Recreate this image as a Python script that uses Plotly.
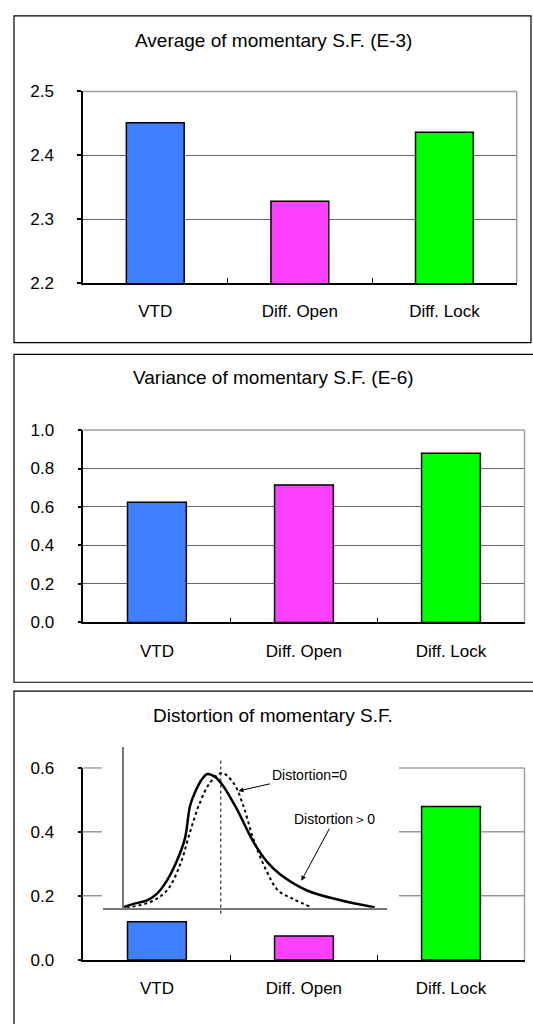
import plotly.graph_objects as go

# ---------------- data ----------------
categories = ["VTD", "Diff. Open", "Diff. Lock"]
bar_colors = ["#4080FF", "#FF40FF", "#00FF00"]

avg_values = [2.451, 2.328, 2.436]      # Average of momentary S.F. (E-3)
var_values = [0.624, 0.714, 0.879]      # Variance of momentary S.F. (E-6)
dist_values = [0.119, 0.074, 0.479]     # Distortion of momentary S.F.

avg_range = [2.2, 2.5]
var_range = [0.0, 1.0]
dist_range = [0.0, 0.6]
avg_ticks = [2.2, 2.3, 2.4, 2.5]
var_ticks = [0.0, 0.2, 0.4, 0.6, 0.8, 1.0]
dist_ticks = [0.0, 0.2, 0.4, 0.6]
dist_grid = [0.2, 0.4]

titles = ["Average of momentary S.F. (E-3)",
          "Variance of momentary S.F. (E-6)",
          "Distortion of momentary S.F."]

# inset sketch: skewed (Distortion>0) and symmetric (Distortion=0) curves
skew_x = [0.70, 1.08, 1.55, 1.90, 2.25, 2.60, 2.89, 3.07, 3.24, 3.48, 3.68, 3.95,
          4.24, 4.71, 5.29, 5.76, 6.23, 7.16, 8.36, 9.56]
skew_y = [0.0, 0.024, 0.045, 0.086, 0.167, 0.289, 0.432, 0.636, 0.718, 0.799, 0.834,
          0.816, 0.758, 0.616, 0.412, 0.289, 0.208, 0.109, 0.046, 0.002]
norm_x = [0.84, 1.66, 2.25, 2.72, 3.07, 3.42, 3.77, 4.18, 4.59, 4.94, 5.29, 5.76,
          6.17, 6.69, 7.34]
norm_y = [0.0, 0.035, 0.106, 0.269, 0.473, 0.656, 0.779, 0.840, 0.779, 0.636, 0.431,
          0.228, 0.106, 0.055, 0.002]
mean_x = 4.15
label_zero = "Distortion=0"
label_pos = "Distortion\uff1e0"
arrow_zero_head = (4.77, 0.728)
arrow_pos_head = (6.98, 0.168)

# ---------------- layout helpers ----------------
W, H = 533, 1024


def px(x):
    return x / W


def py(y):
    return 1 - y / H


TICK_FONT = dict(family="Liberation Sans, Arial, sans-serif", size=17, color="#000")
GRID = "#666666"
FRAME = "#a0a0a0"

fig = go.Figure()

values = [avg_values, var_values, dist_values]
for i, vals in enumerate(values):
    suffix = "" if i == 0 else str(i + 1)
    fig.add_trace(go.Bar(
        x=categories, y=vals,
        marker=dict(color=bar_colors, line=dict(color="#000", width=1.5)),
        xaxis="x" + suffix, yaxis="y" + suffix, showlegend=False,
        hoverinfo="skip"))

# inset curves
fig.add_trace(go.Scatter(x=norm_x, y=norm_y, mode="lines",
                         line=dict(color="#000", width=2, dash="dot", shape="spline"),
                         xaxis="x4", yaxis="y4", showlegend=False, hoverinfo="skip"))
fig.add_trace(go.Scatter(x=skew_x, y=skew_y, mode="lines",
                         line=dict(color="#000", width=2.5, shape="spline"),
                         xaxis="x4", yaxis="y4", showlegend=False, hoverinfo="skip"))

xcommon = dict(type="category", showline=True, linecolor="#000", linewidth=1.5,
               ticks="inside", tickson="boundaries", ticklen=5, tickcolor="#000",
               tickwidth=1, tickfont=TICK_FONT, showgrid=False, zeroline=False,
               ticklabelstandoff=12, fixedrange=True)
ycommon = dict(showline=True, linecolor="#000", linewidth=1.5, ticks="outside",
               ticklen=4, tickcolor="#000", tickwidth=1.5, tickfont=TICK_FONT,
               gridcolor=GRID, gridwidth=1, zeroline=False, tickformat=".1f",
               ticklabelstandoff=20, fixedrange=True)

p1x = [px(83), px(516.7)]
p1y = [py(279.3), py(84)]
p2x = [px(83.4), px(524.5)]
p2y = [py(625), py(429)]
p3x = [px(83.4), px(524.5)]
p3y = [py(968.7), py(773.3)]

fig.update_layout(
    width=W, height=H,
    margin=dict(l=0, r=0, t=0, b=0),
    paper_bgcolor="#fff", plot_bgcolor="#fff",
    bargap=0.6,
    xaxis=dict(domain=p1x, anchor="y", **xcommon),
    yaxis=dict(domain=p1y, anchor="x", range=avg_range, tickvals=avg_ticks,
               showgrid=True, **ycommon),
    xaxis2=dict(domain=p2x, anchor="y2", **xcommon),
    yaxis2=dict(domain=p2y, anchor="x2", range=var_range, tickvals=var_ticks,
                showgrid=True, **ycommon),
    xaxis3=dict(domain=p3x, anchor="y3", **xcommon),
    yaxis3=dict(domain=p3y, anchor="x3", range=dist_range, tickvals=dist_ticks,
                showgrid=False, **ycommon),
    xaxis4=dict(domain=[px(102.7), px(387.3)], anchor="y4", range=[0, 10],
                showline=True, linecolor="#777", linewidth=1.5, showticklabels=False,
                ticks="", showgrid=False, zeroline=False, fixedrange=True),
    yaxis4=dict(domain=[py(915.7), py(752.3)], anchor="free", position=px(122.7),
                range=[0, 1], showline=True, linecolor="#777", linewidth=1.5,
                showticklabels=False, ticks="", showgrid=False, zeroline=False,
                fixedrange=True),
)

shapes = []
# outer panel boxes
for (x0, y0, x1, y1) in [(14, 7, 531, 340), (14, 352, 545, 686), (14, 695, 545, 1040)]:
    shapes.append(dict(type="rect", xref="paper", yref="paper",
                       x0=px(x0), x1=px(x1), y0=py(y1), y1=py(y0),
                       line=dict(color="#000", width=1.2), fillcolor="rgba(0,0,0,0)",
                       layer="above"))
# plot frames (top and right, gray)
for sfx in ["", "2"]:
    shapes.append(dict(type="line", xref="x%s domain" % sfx, yref="y%s domain" % sfx,
                       x0=0, x1=1, y0=1, y1=1, line=dict(color=FRAME, width=1.5)))
    shapes.append(dict(type="line", xref="x%s domain" % sfx, yref="y%s domain" % sfx,
                       x0=1, x1=1, y0=0, y1=1, line=dict(color=FRAME, width=1.5)))
# panel 3: frame and gridlines interrupted by the inset sketch
gap_l, gap_r = 0.042, 0.7154
for seg in [(0, gap_l), (gap_r, 1)]:
    shapes.append(dict(type="line", xref="x3 domain", yref="y3 domain",
                       x0=seg[0], x1=seg[1], y0=1, y1=1,
                       line=dict(color=FRAME, width=1.5)))
    for g in dist_grid:
        shapes.append(dict(type="line", xref="x3 domain", yref="y3",
                           x0=seg[0], x1=seg[1], y0=g, y1=g,
                           line=dict(color=GRID, width=1), layer="below"))
shapes.append(dict(type="line", xref="x3 domain", yref="y3 domain",
                   x0=1, x1=1, y0=0, y1=1, line=dict(color=FRAME, width=1.5)))
# dotted mean line of the symmetric curve
shapes.append(dict(type="line", xref="x4", yref="paper", x0=mean_x, x1=mean_x,
                   y0=py(921.7), y1=py(763.3),
                   line=dict(color="#000", width=1, dash="dot")))
fig.update_layout(shapes=shapes)

annotations = []
title_y = [32, 375, 720]
for t, ty in zip(titles, title_y):
    annotations.append(dict(text=t, xref="paper", yref="paper", x=px(273), y=py(ty),
                            xanchor="center", yanchor="middle", showarrow=False,
                            font=dict(family="Liberation Sans, Arial, sans-serif",
                                      size=19, color="#000")))
ann_font = dict(family="Liberation Sans, Arial, sans-serif", size=14, color="#000")
annotations.append(dict(text=label_zero, xref="x4", yref="y4",
                        x=arrow_zero_head[0], y=arrow_zero_head[1],
                        ax=70.6, ay=-16, axref="pixel", ayref="pixel",
                        showarrow=True, arrowhead=2, arrowsize=1, arrowwidth=1,
                        arrowcolor="#000", font=ann_font, standoff=0))
annotations.append(dict(text=label_pos, xref="x4", yref="y4",
                        x=arrow_pos_head[0], y=arrow_pos_head[1],
                        ax=33.1, ay=-61.6, axref="pixel", ayref="pixel",
                        showarrow=True, arrowhead=2, arrowsize=1, arrowwidth=1,
                        arrowcolor="#000", font=ann_font, standoff=0))
fig.update_layout(annotations=annotations)

page_fix = (
    "var de=document.documentElement, bd=document.body;"
    "de.style.margin='0'; de.style.padding='0'; de.style.overflow='hidden';"
    "de.style.height='1024px'; bd.style.margin='0'; bd.style.padding='0';"
    "bd.style.overflow='hidden'; bd.style.height='1024px';"
    "var gd=document.getElementById('{plot_id}');"
    "if(gd){gd.style.position='fixed'; gd.style.left='0'; gd.style.top='0';}"
)

fig.write_html("out.html", config={"displayModeBar": False}, post_script=page_fix)
